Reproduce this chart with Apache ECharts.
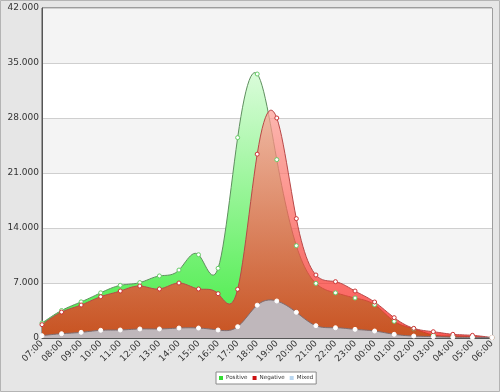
<!DOCTYPE html>
<html><head><meta charset="utf-8">
<script src="https://cdn.jsdelivr.net/npm/echarts@6/dist/echarts.min.js"></script>
<style>html,body{margin:0;padding:0;background:#e6e6e6;}#c{width:500px;height:392px;}</style>
</head><body><div id="c"></div>
<script>
var categories = ['07:00','08:00','09:00','10:00','11:00','12:00','13:00','14:00','15:00','16:00','17:00','18:00','19:00','20:00','21:00','22:00','23:00','00:00','01:00','02:00','03:00','04:00','05:00','06:00'];
var positive = [1900,3500,4600,5750,6700,7050,7900,8650,10600,8870,25500,33600,22700,11750,6950,5750,5090,4240,2120,1170,380,250,150,50];
var negative = [1700,3300,4200,5260,5980,6620,6240,7000,6240,5640,6200,23400,28000,15190,8020,7170,5980,4580,2590,1230,800,470,340,50];
var mixed = [300,550,720,980,1020,1150,1150,1270,1270,1020,1440,4180,4710,3270,1570,1310,1100,890,470,250,170,100,80,50];
var yTicks = [0,7000,14000,21000,28000,35000,42000];

var chart = echarts.init(document.getElementById('c'), null, {renderer:'canvas'});
function grad(top, bottom){
  return new echarts.graphic.LinearGradient(0,0,0,1,[{offset:0,color:top},{offset:1,color:bottom}]);
}
// natural cubic spline through pixel points (x increasing), sampled
function splinePoints(pts, precision){
  var n = pts.length; if(n<3) return pts.slice();
  var h=[], a=new Array(n).fill(0);
  for(var i=1;i<n;i++) h[i]=pts[i][0]-pts[i-1][0];
  var sub=[],diag=[],sup=[],rhs=[];
  for(var i=1;i<=n-2;i++){
    diag[i]=(h[i]+h[i+1])/3; sup[i]=h[i+1]/6; sub[i]=h[i]/6;
    rhs[i]=(pts[i+1][1]-pts[i][1])/h[i+1]-(pts[i][1]-pts[i-1][1])/h[i];
  }
  var m=n-2, cp=[], dp=[];
  for(var k=1;k<=m;k++){
    var den = diag[k] - (k>1 ? sub[k]*cp[k-1] : 0);
    cp[k] = sup[k]/den;
    dp[k] = (rhs[k] - (k>1 ? sub[k]*dp[k-1] : 0))/den;
  }
  for(var k=m;k>=1;k--){ a[k] = dp[k] - (k<m ? cp[k]*a[k+1] : 0); }
  var out=[[pts[0][0],pts[0][1]]];
  for(var i=1;i<n;i++){
    for(var j=1;j<=precision;j++){
      var t1=h[i]*j/precision, t2=h[i]-t1;
      var y=((-a[i-1]/6*(t2+h[i])*t1+pts[i-1][1])*t2+(-a[i]/6*(t1+h[i])*t2+pts[i][1])*t1)/h[i];
      out.push([pts[i-1][0]+t1,y]);
    }
  }
  return out;
}
function areaSeries(name, values, fillGrad, stroke, z){
  return {
    name:name, type:'custom', z:z, silent:true,
    data: values.map(function(v,i){return [i,v];}),
    encode:{x:0,y:0},
    renderItem:function(params, api){
      if(params.dataIndex!==0) return null;
      var pts = values.map(function(v,i){return api.coord([i,v]);});
      var curve = splinePoints(pts, 12);
      var base = api.coord([0,0])[1];
      var poly = curve.slice();
      poly.push([curve[curve.length-1][0],base]);
      poly.push([curve[0][0],base]);
      return {type:'group',children:[
        {type:'polygon',shape:{points:poly},style:{fill:fillGrad,stroke:null}},
        {type:'polyline',shape:{points:curve},style:{fill:null,stroke:stroke,lineWidth:1}}
      ]};
    }
  };
}
function markerSeries(name, values, fill, border){
  return {name:name,type:'scatter',data:values.map(function(v,i){return [i,v];}),
    symbol:'circle',symbolSize:4,z:10,silent:true,
    itemStyle:{color:fill,borderColor:border,borderWidth:1,opacity:1}};
}
var font = 'DejaVu Sans';
chart.setOption({
  backgroundColor:'#e6e6e6',
  animation:false,
  textStyle:{fontFamily:font},
  graphic:[{type:'rect',shape:{x:0.5,y:0.5,width:499,height:391},style:{fill:'none',stroke:'#b4b4b4',lineWidth:1},z:0,silent:true}],
  grid:{left:42,right:8,top:8,bottom:54,show:true,backgroundColor:'#fff',borderColor:'#555',borderWidth:1},
  legend:{
    bottom:8,left:216,
    padding:[3,3],itemGap:5,itemWidth:4,itemHeight:4,icon:'rect',
    backgroundColor:'#fff',borderColor:'#8a8a8a',borderWidth:1,
    textStyle:{fontSize:5.6,color:'#333',fontFamily:font,padding:[0,0,0,-2]},
    data:[{name:'Positive',itemStyle:{color:'#33dd33',borderWidth:0}},{name:'Negative',itemStyle:{color:'#cc1111',borderWidth:0}},{name:'Mixed',itemStyle:{color:'#b8d6f0',borderWidth:0}}]
  },
  xAxis:{type:'category',data:categories,boundaryGap:false,
    axisLine:{lineStyle:{color:'#555'}},axisTick:{show:false},
    axisLabel:{interval:0,rotate:45,fontSize:9,color:'#333',margin:4,fontFamily:font},
    splitLine:{show:false}},
  yAxis:{type:'value',min:yTicks[0],max:yTicks[yTicks.length-1],interval:yTicks[1]-yTicks[0],
    axisLine:{show:true,lineStyle:{color:'#555'}},axisTick:{show:false},
    axisLabel:{fontSize:9,color:'#333',margin:3,fontFamily:font,formatter:function(v){return v===0?'0':(v/1000)+'.000';}},
    splitLine:{lineStyle:{color:'#cfcfcf'}},
    splitArea:{show:true,areaStyle:{color:['#ffffff','#f4f4f4']}}},
  series:[
    areaSeries('Positive', positive, grad('#dafcda','#45ec45'), '#5f8f5f', 2),
    areaSeries('Negative', negative, grad('rgba(255,160,150,0.73)','rgba(248,26,20,0.73)'), '#b84848', 3),
    areaSeries('Mixed', mixed, '#bfb7bb', '#7d6c70', 4),
    markerSeries('Positive', positive, '#ffffff', '#66cc66'),
    markerSeries('Negative', negative, '#ffffff', '#cc3333'),
    markerSeries('Mixed', mixed, '#ffffff', '#ffffff')
  ]
});
</script></body></html>
